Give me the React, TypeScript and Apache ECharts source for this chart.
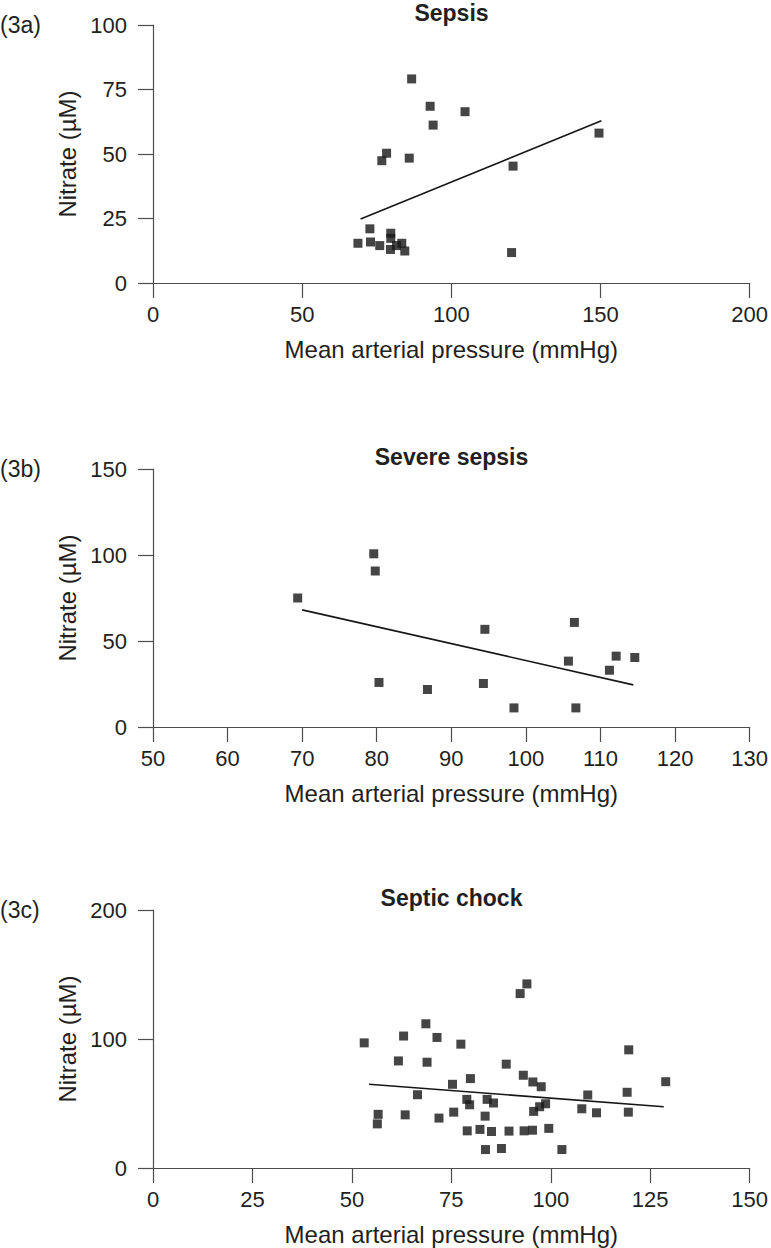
import React, { useEffect, useRef } from "react";
import * as echarts from "echarts";

// ---------- Data ----------
const panelLabels = ["(3a)", "(3b)", "(3c)"];
const panelTitles = ["Sepsis", "Severe sepsis", "Septic chock"];
const xAxisName = "Mean arterial pressure (mmHg)";
const yAxisName = "Nitrate (\u00b5M)";

// Panel 3a – Sepsis
const sepsisMAP = [86.7, 92.9, 104.6, 93.9, 78.3, 76.7, 85.9, 120.7, 149.5, 72.7, 68.7, 72.9, 76.0, 79.7, 79.7, 79.6, 81.6, 83.4, 84.4, 120.2];
const sepsisNitrate = [79.1, 68.5, 66.4, 61.2, 50.3, 47.4, 48.4, 45.3, 58.1, 21.0, 15.4, 15.9, 14.5, 19.3, 17.3, 13.0, 14.5, 15.4, 12.4, 11.8];
const sepsisFitMAP = [69.6, 150.3];
const sepsisFitNitrate = [24.8, 62.9];

// Panel 3b – Severe sepsis
const severeMAP = [69.4, 79.6, 79.8, 80.3, 86.8, 94.5, 94.3, 98.4, 106.5, 105.7, 112.1, 114.6, 111.2, 106.7];
const severeNitrate = [75.0, 100.7, 90.7, 25.9, 21.8, 56.8, 25.3, 11.1, 60.8, 38.3, 41.2, 40.4, 33.0, 11.1];
const severeFitMAP = [70.0, 114.4];
const severeFitNitrate = [68.1, 24.5];

// Panel 3c – Septic chock
const shockMAP = [
  53.1, 63.0, 68.6, 71.4, 77.4, 61.7, 68.9, 92.3, 94.0, 88.8,
  79.8, 75.3, 93.1, 95.5, 97.6, 66.5, 78.9, 79.6, 84.0, 85.6,
  56.6, 56.4, 63.4, 71.9, 75.6, 83.5, 79.0, 82.2, 85.1, 89.5,
  93.3, 95.4, 83.6, 87.6, 95.7, 97.2, 98.7, 99.5, 102.8, 109.3,
  107.8, 111.5, 119.6, 119.2, 119.5, 128.9,
];
const shockNitrate = [
  97.0, 102.3, 111.8, 101.2, 96.0, 83.0, 82.0, 135.2, 142.7, 80.5,
  69.3, 64.9, 71.9, 66.7, 63.0, 56.8, 53.2, 49.0, 53.2, 50.4,
  41.6, 34.2, 41.2, 38.7, 43.3, 40.2, 28.8, 29.9, 28.3, 28.6,
  28.8, 29.3, 14.3, 15.1, 43.9, 47.5, 49.8, 30.7, 14.3, 56.6,
  45.9, 42.8, 91.6, 58.7, 43.3, 66.9,
];
const shockFitMAP = [54.3, 128.4];
const shockFitNitrate = [64.9, 47.5];

// Axis scales
const xMins = [0, 50, 0];
const xMaxs = [200, 130, 150];
const xIntervals = [50, 10, 25];
const yMins = [0, 0, 0];
const yMaxs = [100, 150, 200];
const yIntervals = [25, 50, 100];

const zip = (xs: number[], ys: number[]) => xs.map((x, i) => [x, ys[i]]);

const FONT = '"Liberation Sans", Arial, Helvetica, sans-serif';
const TEXT = "#231f20";
const AXIS = "#4d4d4f";

export default function App() {
  const ref = useRef<HTMLDivElement>(null);

  useEffect(() => {
    if (!ref.current) return;
    const chart = echarts.init(ref.current, undefined, { renderer: "svg" });

    const gridTops = [25, 469, 910];
    const gridLeft = 153;
    const gridWidth = 597;
    const gridHeight = 258;

    const scatterSets = [
      zip(sepsisMAP, sepsisNitrate),
      zip(severeMAP, severeNitrate),
      zip(shockMAP, shockNitrate),
    ];
    const fitSets = [
      zip(sepsisFitMAP, sepsisFitNitrate),
      zip(severeFitMAP, severeFitNitrate),
      zip(shockFitMAP, shockFitNitrate),
    ];

    const axisCommon = {
      axisLine: { show: true, lineStyle: { color: AXIS, width: 1.2 } },
      axisTick: { show: true, inside: false, length: 15, lineStyle: { color: AXIS, width: 1.2 } },
      splitLine: { show: false },
      nameTextStyle: { fontFamily: FONT, fontSize: 24, color: TEXT },
    };

    const option: any = {
      animation: false,
      backgroundColor: "#ffffff",
      grid: gridTops.map((top) => ({
        left: gridLeft,
        top,
        width: gridWidth,
        height: gridHeight,
        containLabel: false,
      })),
      xAxis: gridTops.map((_, i) => ({
        ...axisCommon,
        type: "value",
        gridIndex: i,
        min: xMins[i],
        max: xMaxs[i],
        interval: xIntervals[i],
        name: xAxisName,
        nameLocation: "middle",
        nameGap: 54,
        axisLabel: { margin: 20, fontFamily: FONT, fontSize: 22, color: TEXT },
      })),
      yAxis: gridTops.map((_, i) => ({
        ...axisCommon,
        type: "value",
        gridIndex: i,
        min: yMins[i],
        max: yMaxs[i],
        interval: yIntervals[i],
        name: yAxisName,
        nameLocation: "middle",
        nameGap: 70,
        nameRotate: 90,
        axisLabel: { margin: 26, fontFamily: FONT, fontSize: 22, color: TEXT },
      })),
      series: [
        ...scatterSets.map((data, i) => ({
          type: "scatter",
          xAxisIndex: i,
          yAxisIndex: i,
          symbol: "rect",
          symbolSize: 9,
          itemStyle: { color: "#161616" },
          data,
        })),
        ...fitSets.map((data, i) => ({
          type: "line",
          xAxisIndex: i,
          yAxisIndex: i,
          symbol: "none",
          lineStyle: { color: "#161616", width: 1.6 },
          data,
        })),
      ],
      graphic: [
        ...panelTitles.map((t, i) => ({
          type: "text",
          x: gridLeft + gridWidth / 2,
          y: gridTops[i] - 12,
          style: {
            text: t,
            fontFamily: FONT,
            fontSize: 23,
            fontWeight: "bold",
            fill: TEXT,
            align: "center",
            verticalAlign: "middle",
          },
        })),
        ...panelLabels.map((t, i) => ({
          type: "text",
          x: 0,
          y: gridTops[i],
          style: {
            text: t,
            fontFamily: FONT,
            fontSize: 23,
            fill: TEXT,
            align: "left",
            verticalAlign: "middle",
          },
        })),
      ],
    };

    chart.setOption(option);
    return () => chart.dispose();
  }, []);

  return (
    <div
      ref={ref}
      style={{ position: "absolute", left: 0, top: 0, width: 771, height: 1248 }}
    />
  );
}
